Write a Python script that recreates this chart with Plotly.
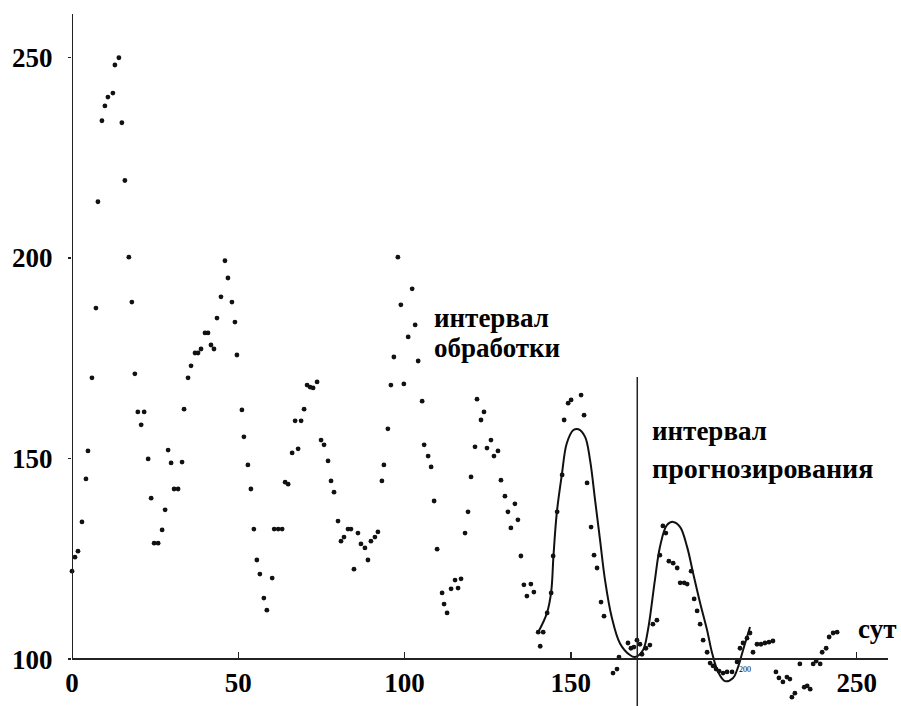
import plotly.graph_objects as go

# ---- data ----
days = [0, 0.9, 1.8, 3.0, 4.2, 4.8, 6.0, 7.2, 7.8, 9.0,
        9.9, 10.8, 12.3, 12.9, 14.1, 15.0, 15.9, 17.1, 18.0, 18.9,
        19.8, 20.8, 21.7, 22.9, 23.8, 24.7, 25.9, 27.1, 28.0, 28.9,
        29.8, 30.7, 31.9, 33.1, 33.7, 34.9, 35.8, 37.0, 37.9, 38.8,
        40.0, 40.9, 41.8, 42.7, 43.6, 44.8, 46.0, 46.9, 48.1, 49.0,
        49.6, 51.1, 51.7, 52.9, 53.8, 54.7, 55.6, 56.5, 57.7, 58.6,
        60.2, 60.8, 62.0, 63.2, 64.1, 65.0, 66.2, 67.1, 68.0, 68.9,
        69.8, 70.7, 71.6, 72.5, 73.7, 74.9, 75.8, 77.0, 77.9, 78.8,
        80.0, 80.9, 81.8, 83.0, 83.9, 84.8, 86.0, 86.9, 88.1, 89.0,
        89.9, 91.1, 92.0, 93.2, 93.8, 95.0, 95.9, 96.8, 98.0, 98.9,
        99.8, 101.1, 102.3, 103.2, 104.1, 105.3, 105.9, 107.1, 108.0, 108.9,
        109.8, 111.3, 111.9, 112.8, 114.0, 115.2, 116.1, 117.0, 118.2, 119.1,
        120.0, 121.2, 121.8, 123.0, 123.9, 124.8, 126.0, 126.9, 128.1, 129.0,
        130.2, 131.1, 132.0, 133.2, 134.1, 135.0, 135.9, 136.8, 138.0, 138.9,
        140.2, 140.8, 141.7, 142.9, 144.1, 144.7, 145.9, 147.4, 148.0, 149.2,
        150.1, 153.1, 154.0, 154.9, 156.1, 157.0, 157.9, 159.1, 160.0, 162.7,
        163.9, 164.5, 167.2, 168.1, 169.0, 169.9, 170.8, 171.4, 172.6, 173.8,
        174.7, 175.9, 176.8, 177.7, 178.6, 179.5, 180.8, 182.0, 182.9, 184.1,
        185.0, 186.2, 187.1, 188.0, 188.9, 189.8, 191.0, 191.9, 192.8, 193.7,
        194.6, 195.8, 197.0, 198.5, 200.0, 200.9, 201.8, 203.0, 203.9, 204.8,
        206.0, 207.2, 208.4, 209.6, 210.8, 211.7, 212.6, 213.8, 215.0, 215.9,
        216.5, 217.4, 218.9, 220.2, 221.1, 222.0, 222.9, 223.8, 225.0, 225.6,
        226.8, 227.7, 228.9, 230.1]

values = [121.9, 125.4, 126.9, 134.2, 144.9, 151.9, 170.1, 187.5, 214.0, 234.2,
          237.9, 240.1, 241.1, 248.1, 249.9, 233.7, 219.3, 200.2, 189.0, 171.1,
          161.6, 158.4, 161.6, 149.9, 140.1, 128.9, 128.9, 132.2, 137.2, 152.1,
          148.9, 142.4, 142.4, 149.1, 162.3, 170.1, 173.1, 176.3, 176.3, 177.3,
          181.3, 181.3, 178.3, 177.3, 185.0, 190.3, 199.3, 195.0, 189.0, 184.0,
          175.8, 162.1, 155.4, 148.4, 142.4, 132.4, 124.7, 121.2, 115.2, 112.2,
          120.2, 132.4, 132.4, 132.4, 144.1, 143.6, 151.4, 159.4, 152.4, 159.4,
          162.3, 168.3, 167.8, 167.6, 169.1, 154.6, 153.4, 149.4, 144.4, 141.6,
          134.4, 129.4, 130.4, 132.4, 132.4, 122.4, 131.4, 128.7, 127.7, 124.7,
          129.4, 130.4, 131.7, 144.4, 148.4, 157.4, 168.3, 175.3, 200.2, 188.3,
          168.6, 180.3, 192.3, 183.3, 174.3, 164.3, 153.4, 150.6, 147.9, 139.4,
          127.4, 116.5, 113.7, 111.5, 117.5, 119.7, 117.7, 120.0, 131.4, 136.7,
          145.4, 152.9, 164.8, 159.6, 161.6, 152.6, 154.6, 150.6, 151.9, 144.6,
          140.6, 136.7, 132.7, 138.7, 134.7, 125.7, 118.5, 115.7, 118.7, 116.7,
          106.7, 103.2, 106.7, 111.5, 116.5, 125.7, 136.7, 145.9, 159.6, 163.8,
          164.6, 165.8, 160.8, 143.9, 132.9, 125.9, 122.7, 114.2, 110.7, 96.5,
          97.5, 100.5, 104.0, 102.7, 103.0, 104.7, 103.7, 101.2, 102.7, 103.5,
          108.7, 109.7, 125.9, 133.2, 131.4, 124.4, 123.9, 122.7, 119.0, 119.0,
          118.7, 121.9, 115.0, 112.0, 108.7, 104.7, 101.7, 99.0, 98.3, 97.5,
          97.0, 96.5, 96.8, 96.8, 99.3, 102.7, 104.0, 105.2, 106.5, 101.7,
          103.7, 103.7, 104.0, 104.2, 104.5, 96.8, 95.3, 94.3, 95.5, 95.0,
          90.5, 91.5, 98.8, 93.0, 93.3, 92.5, 98.8, 99.5, 98.8, 101.7,
          102.7, 105.5, 106.5, 106.7]

curve_days = [140.2, 142.8, 144.1, 144.8, 145.8, 147.3, 148.8, 150.8, 152.3, 154.3,
              155.8, 157.3, 158.8, 160.3, 162.3, 164.8, 167.8, 169.3, 171.7, 173.2,
              175.3, 176.8, 178.9, 180.8, 182.9, 185.0, 186.8, 188.9, 191.0, 192.5,
              194.3, 196.4, 198.8, 200.3, 201.8, 203.9]
curve_values = [106.7, 111.4, 116.7, 125.8, 136.5, 145.9, 153.8, 157.1, 157.3, 155.4,
                149.6, 139.7, 129.7, 119.7, 110.5, 103.9, 101.0, 100.5, 102.2, 107.2,
                119.7, 127.9, 133.4, 134.2, 132.9, 127.9, 121.4, 114.0, 107.2, 101.5,
                96.8, 94.5, 95.3, 98.0, 102.2, 108.0]

x_tick_vals = [0, 50, 100, 150, 236]
x_tick_text = ["0", "50", "100", "150", "250"]
y_tick_vals = [100, 150, 200, 250]
forecast_start = 170

# ---- layout geometry ----
W, H = 901, 706
L, R, T, B = 72, 13, 0, 0
PW = W - L - R


def xp(px):
    return (px - L) / PW


def yp(py):
    return 1 - py / H


FONT = "Liberation Serif, Times New Roman, serif"
INK = "#111111"

fig = go.Figure()
fig.add_trace(go.Scatter(
    x=days, y=values, mode="markers",
    marker=dict(color=INK, size=4.8, line=dict(width=0)),
    cliponaxis=False, hoverinfo="skip"))
fig.add_trace(go.Scatter(
    x=curve_days, y=curve_values, mode="lines",
    line=dict(color=INK, width=2, shape="spline", smoothing=1.0),
    cliponaxis=False, hoverinfo="skip"))

fig.update_layout(
    width=W, height=H,
    margin=dict(l=L, r=R, t=T, b=B, pad=0),
    paper_bgcolor="white", plot_bgcolor="white",
    showlegend=False,
    xaxis=dict(
        range=[0, 245.4], anchor="free", position=yp(659),
        showline=True, linecolor="#222", linewidth=2,
        ticks="inside", ticklen=6, tickwidth=1.5, tickcolor="#222",
        tickvals=x_tick_vals, ticktext=x_tick_text,
        tickfont=dict(family=FONT, size=27, color="black", weight=700),
        showgrid=False, zeroline=False, fixedrange=True,
    ),
    yaxis=dict(
        range=[88.3, 264.3],
        showline=False,
        ticks="outside", ticklen=3, tickwidth=1.5, tickcolor="#222",
        tickvals=y_tick_vals,
        tickfont=dict(family=FONT, size=27, color="black", weight=700),
        ticklabelstandoff=10,
        showgrid=False, zeroline=False, fixedrange=True,
    ),
)

# y axis line (stops at the x axis)
fig.add_shape(type="line", xref="x", yref="y", x0=0, x1=0, y0=100, y1=260.8,
              line=dict(color="#222", width=2))
# divider between processing and forecasting intervals
fig.add_shape(type="line", xref="x", yref="y", x0=forecast_start, x1=forecast_start,
              y0=88.3, y1=170.3, line=dict(color="#222", width=1.5))

labels = [
    ("интервал", 432, 318, 27),
    ("обработки", 432, 348, 27),
    ("интервал", 650, 431, 27),
    ("прогнозирования", 650, 468, 28),
    ("сут", 856, 629, 27),
]
for txt, lx, ly, fs in labels:
    fig.add_annotation(text=txt, xref="paper", yref="paper", x=xp(lx), y=yp(ly),
                       xanchor="left", yanchor="middle", showarrow=False,
                       font=dict(family=FONT, size=fs, color="black", weight=700))

fig.add_annotation(text="200", xref="paper", yref="paper", x=xp(745), y=yp(669),
                   xanchor="center", yanchor="middle", showarrow=False,
                   font=dict(family=FONT, size=8, color="black"))

fig.write_html(
    "out.html",
    config={"displayModeBar": False, "staticPlot": True},
    post_script="document.body.style.margin='0';document.body.style.padding='0';"
                "document.body.style.overflow='hidden';",
)
